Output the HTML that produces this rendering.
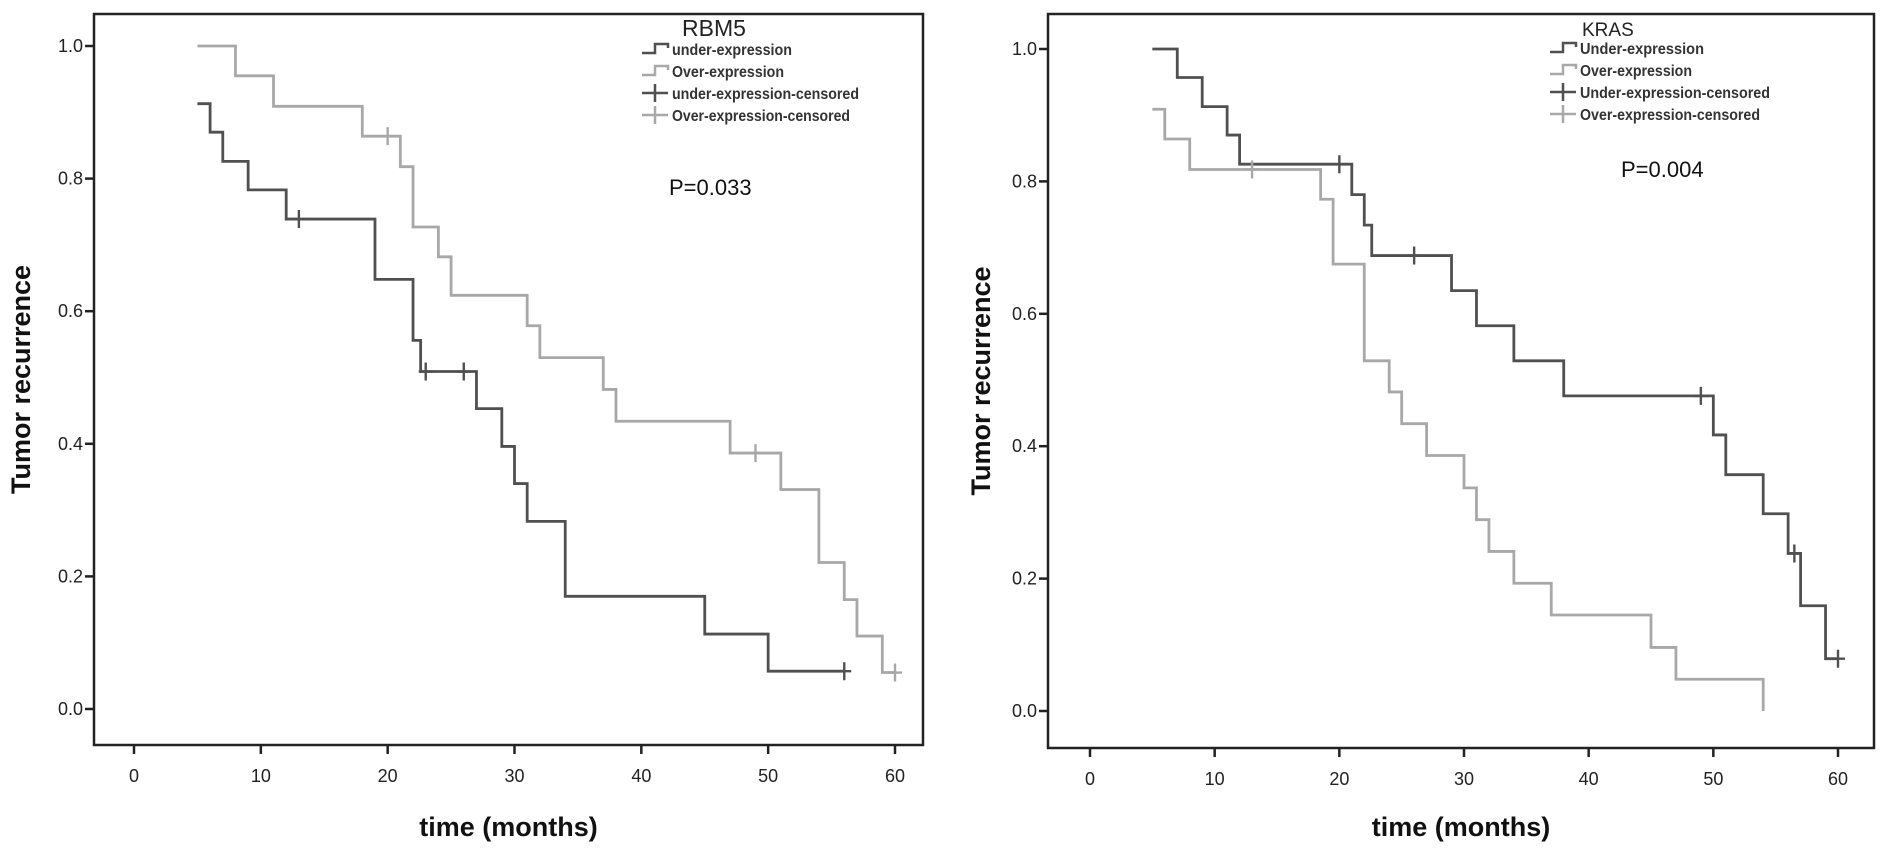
<!DOCTYPE html>
<html><head><meta charset="utf-8"><style>
body{margin:0;background:#fff;}
svg{display:block;font-family:"Liberation Sans",sans-serif;}
</style></head><body>
<svg id="c" width="1890" height="850"></svg>
<script>
// ---- Left panel data (RBM5) ----
const rbmUnderT = [5, 6, 7, 9, 12, 19, 22, 22.6, 27, 29, 30, 31, 34, 45, 50, 56];
const rbmUnderS = [0.913, 0.870, 0.826, 0.783, 0.739, 0.648, 0.556, 0.509, 0.453, 0.396, 0.340, 0.283, 0.170, 0.113, 0.057, 0.057];
const rbmUnderCensT = [13, 23, 26, 56];
const rbmUnderCensS = [0.739, 0.509, 0.509, 0.057];
const rbmOverT = [5, 8, 11, 18, 21, 22, 24, 25, 31, 32, 37, 38, 47, 51, 54, 56, 57, 59, 60];
const rbmOverS = [1.0, 0.955, 0.909, 0.864, 0.818, 0.727, 0.682, 0.624, 0.578, 0.530, 0.482, 0.434, 0.386, 0.331, 0.221, 0.165, 0.110, 0.055, 0.055];
const rbmOverCensT = [20, 49, 60];
const rbmOverCensS = [0.864, 0.386, 0.055];
// ---- Right panel data (KRAS) ----
const krasUnderT = [5, 7, 9, 11, 12, 21, 22, 22.6, 29, 31, 34, 38, 50, 51, 54, 56, 57, 59, 60];
const krasUnderS = [1.0, 0.957, 0.913, 0.870, 0.826, 0.780, 0.734, 0.688, 0.635, 0.582, 0.529, 0.476, 0.417, 0.357, 0.298, 0.238, 0.159, 0.079, 0.079];
const krasUnderCensT = [20, 26, 49, 56.5, 60];
const krasUnderCensS = [0.826, 0.688, 0.476, 0.238, 0.079];
const krasOverT = [5, 6, 8, 18.5, 19.5, 22, 24, 25, 27, 30, 31, 32, 34, 37, 45, 47, 54];
const krasOverS = [0.909, 0.864, 0.818, 0.773, 0.675, 0.529, 0.482, 0.434, 0.386, 0.337, 0.289, 0.241, 0.193, 0.145, 0.096, 0.048, 0.0];
const krasOverCensT = [13];
const krasOverCensS = [0.818];
const xTicks = [0, 10, 20, 30, 40, 50, 60];
const yTicks = [0.0, 0.2, 0.4, 0.6, 0.8, 1.0];

const NS = "http://www.w3.org/2000/svg";
const svg = document.getElementById('c');
function mk(tag, attrs, parent, text){
  const e = document.createElementNS(NS, tag);
  for (const k in attrs) e.setAttribute(k, attrs[k]);
  if (text !== undefined) e.textContent = text;
  (parent || svg).appendChild(e);
  return e;
}
const DARK = "#505050", LIGHT = "#a8a8a8";

function panel(p){
  const g = mk('g', {});
  
  
  const X = t => p.x0 + (p.x60 - p.x0) * t / 60;
  const Y = s => p.y0 + (p.y1 - p.y0) * s;
  const fr = mk('rect', {x:p.L, y:p.T, width:p.R-p.L, height:p.B-p.T, fill:'none', stroke:'#222', 'stroke-width':2.5}, g);
  
  
  yTicks.forEach(v => {
    const tk = mk('line', {x1:p.L-9, x2:p.L, y1:Y(v), y2:Y(v), stroke:'#222', 'stroke-width':2.5}, g);
    
    
    const tl = mk('text', {x:p.L-11, y:Y(v)+6, 'text-anchor':'end', 'font-size':18, fill:'#222'}, g, v.toFixed(1));
    
    
  });
  xTicks.forEach(v => {
    const tk = mk('line', {x1:X(v), x2:X(v), y1:p.B, y2:p.B+9, stroke:'#222', 'stroke-width':2.5}, g);
    
    
    const tl = mk('text', {x:X(v), y:p.B+37, 'text-anchor':'middle', 'font-size':18, fill:'#222'}, g, String(v));
    
    
  });
  const xt = mk('text', {x:(p.L+p.R)/2, y:836, 'text-anchor':'middle', 'font-size':27, 'font-weight':'bold', fill:'#111'}, g, 'time (months)');
  
  
  const yt = mk('text', {x:0, y:0, 'text-anchor':'middle', 'font-size':27, 'font-weight':'bold', fill:'#111', transform:`translate(${p.ytx},${(p.T+p.B)/2}) rotate(-90)`}, g, 'Tumor recurrence');
  
  

  function curve(T, S, col, nm){
    let d = `M${X(T[0])},${Y(S[0])}`;
    for (let i = 1; i < T.length; i++) d += ` H${X(T[i])} V${Y(S[i])}`;
    const pth = mk('path', {d, fill:'none', stroke:col, 'stroke-width':2.8}, g);
    
    
  }
  function cens(T, S, col, nm){
    T.forEach((t, i) => {
      const c = mk('path', {d:`M${X(t)-7},${Y(S[i])} H${X(t)+7} M${X(t)},${Y(S[i])-9} V${Y(S[i])+9}`, stroke:col, 'stroke-width':2.4, fill:'none'}, g);
      
      
    });
  }
  curve(p.oT, p.oS, LIGHT, 'over-expression-curve');
  curve(p.uT, p.uS, DARK, 'under-expression-curve');
  cens(p.ocT, p.ocS, LIGHT, 'over-censored-mark');
  cens(p.ucT, p.ucS, DARK, 'under-censored-mark');

  const ti = mk('text', {x:p.titleX, y:36, 'font-size':p.titleSize, fill:'#222'}, g, p.title);
  
  
  const labs = p.labels, cols = [DARK, LIGHT, DARK, LIGHT];
  labs.forEach((lb, i) => {
    const y = p.legY + i * 22;
    const lx = p.legX;
    let icon;
    if (i < 2) icon = mk('path', {d:`M${lx},${y} H${lx+13} V${y-9} H${lx+26} V${y-5}`, stroke:cols[i], 'stroke-width':2.5, fill:'none'}, g);
    else icon = mk('path', {d:`M${lx},${y-4} H${lx+26} M${lx+13},${y-13} V${y+5}`, stroke:cols[i], 'stroke-width':2.5, fill:'none'}, g);
    
    
    const t = mk('text', {x:lx+30, y:y+2, 'font-size':15.5, 'font-weight':'bold', fill:'#333', textLength:p.tl[i], lengthAdjust:'spacingAndGlyphs'}, g, lb);
    
    
  });
  const pv = mk('text', {x:p.pX, y:p.pY, 'font-size':22, fill:'#111'}, g, p.pText);
  
  
}

panel({name:'rbm5', L:94, R:923, T:14, B:745, x0:134, x60:895, y0:709, y1:46, ytx:30,
  uT:rbmUnderT, uS:rbmUnderS, ucT:rbmUnderCensT, ucS:rbmUnderCensS,
  oT:rbmOverT, oS:rbmOverS, ocT:rbmOverCensT, ocS:rbmOverCensS,
  title:'RBM5', titleX:682, titleSize:23, legX:642, legY:53,
  labels:['under-expression','Over-expression','under-expression-censored','Over-expression-censored'],
  tl:[120,112,187,178], pText:'P=0.033', pX:669, pY:195});
panel({name:'kras', L:1048, R:1874, T:14, B:748, x0:1090, x60:1838, y0:711, y1:49, ytx:990,
  uT:krasUnderT, uS:krasUnderS, ucT:krasUnderCensT, ucS:krasUnderCensS,
  oT:krasOverT, oS:krasOverS, ocT:krasOverCensT, ocS:krasOverCensS,
  title:'KRAS', titleX:1582, titleSize:19, legX:1550, legY:52,
  labels:['Under-expression','Over-expression','Under-expression-censored','Over-expression-censored'],
  tl:[124,112,190,180], pText:'P=0.004', pX:1621, pY:177});
</script>
</body></html>
